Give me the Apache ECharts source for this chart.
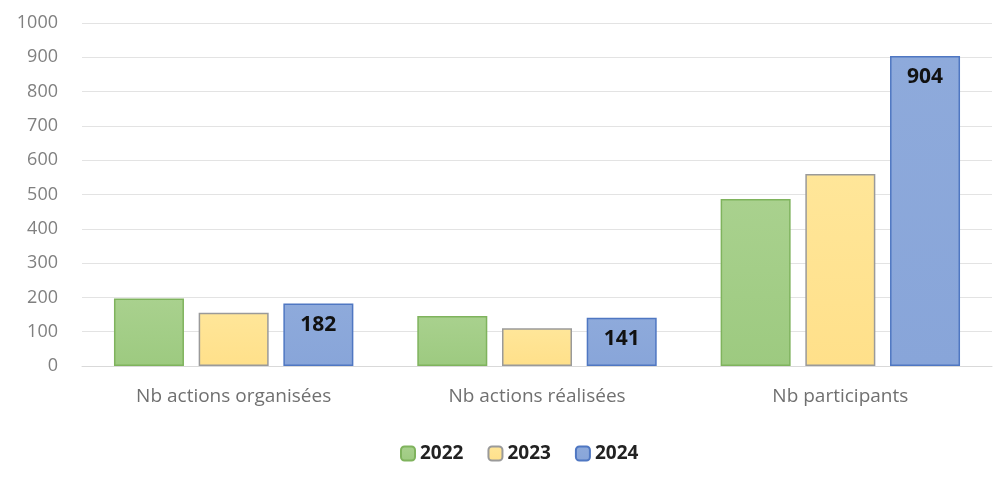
<!DOCTYPE html>
<html><head><meta charset="utf-8">
<script src="https://cdn.jsdelivr.net/npm/echarts@6/dist/echarts.min.js"></script>
<style>html,body{margin:0;padding:0;background:#fff}#c{width:1003px;height:481px}</style>
</head><body><div id="c"></div>
<script>
const categories = ['Nb actions organisées', 'Nb actions réalisées', 'Nb participants'];
const years = ['2022', '2023', '2024'];
const v2022 = [197, 146, 487];
const v2023 = [155, 110, 560];
const v2024 = [182, 141, 904];
const yTicks = [0, 100, 200, 300, 400, 500, 600, 700, 800, 900, 1000];

const chart = echarts.init(document.getElementById('c'));
const font = '"Open Sans", "Noto Sans", sans-serif';
function grad(a, b) {
  return new echarts.graphic.LinearGradient(0, 0, 0, 1, [{offset: 0, color: a}, {offset: 1, color: b}]);
}
const styles = [
  {fill: grad('#a9d18e', '#9dca80'), border: '#7fb35d', label: false},
  {fill: grad('#ffe699', '#ffe08a'), border: '#9a9a9a', label: false},
  {fill: grad('#8eaadb', '#88a5d9'), border: '#4f77c2', label: true}
];
const data = [v2022, v2023, v2024];
chart.setOption({
  animation: false,
  textStyle: {fontFamily: font},
  grid: {left: 82, right: 11, top: 23, bottom: 115},
  legend: {
    top: 439, left: 395, itemWidth: 14, itemHeight: 14, itemGap: 24,
    textStyle: {fontSize: 19, fontWeight: 'bold', color: '#222', fontFamily: font},
    data: years
  },
  xAxis: {
    type: 'category', data: categories,
    axisLine: {show: true, lineStyle: {color: '#d9d9d9'}},
    axisTick: {show: false},
    axisLabel: {color: '#707070', fontSize: 19, margin: 21, fontFamily: font, letterSpacing: 0.6}
  },
  yAxis: {
    type: 'value', min: 0, max: 1000, interval: 100,
    axisLine: {show: false}, axisTick: {show: false},
    axisLabel: {color: '#808080', fontSize: 18, margin: 24, fontFamily: font,
      formatter: v => yTicks.includes(v) ? String(v) : ''},
    splitLine: {lineStyle: {color: '#e3e3e3', width: 1}}
  },
  series: years.map((y, i) => ({
    name: y, type: 'bar', data: data[i],
    barWidth: 70, barGap: '21%', barCategoryGap: '21%',
    itemStyle: {color: styles[i].fill, borderColor: styles[i].border, borderWidth: 1.5},
    label: {show: styles[i].label, position: 'insideTop', distance: 11,
      fontSize: 21, fontWeight: 'bold', color: '#111', fontFamily: font}
  }))
});
</script></body></html>
